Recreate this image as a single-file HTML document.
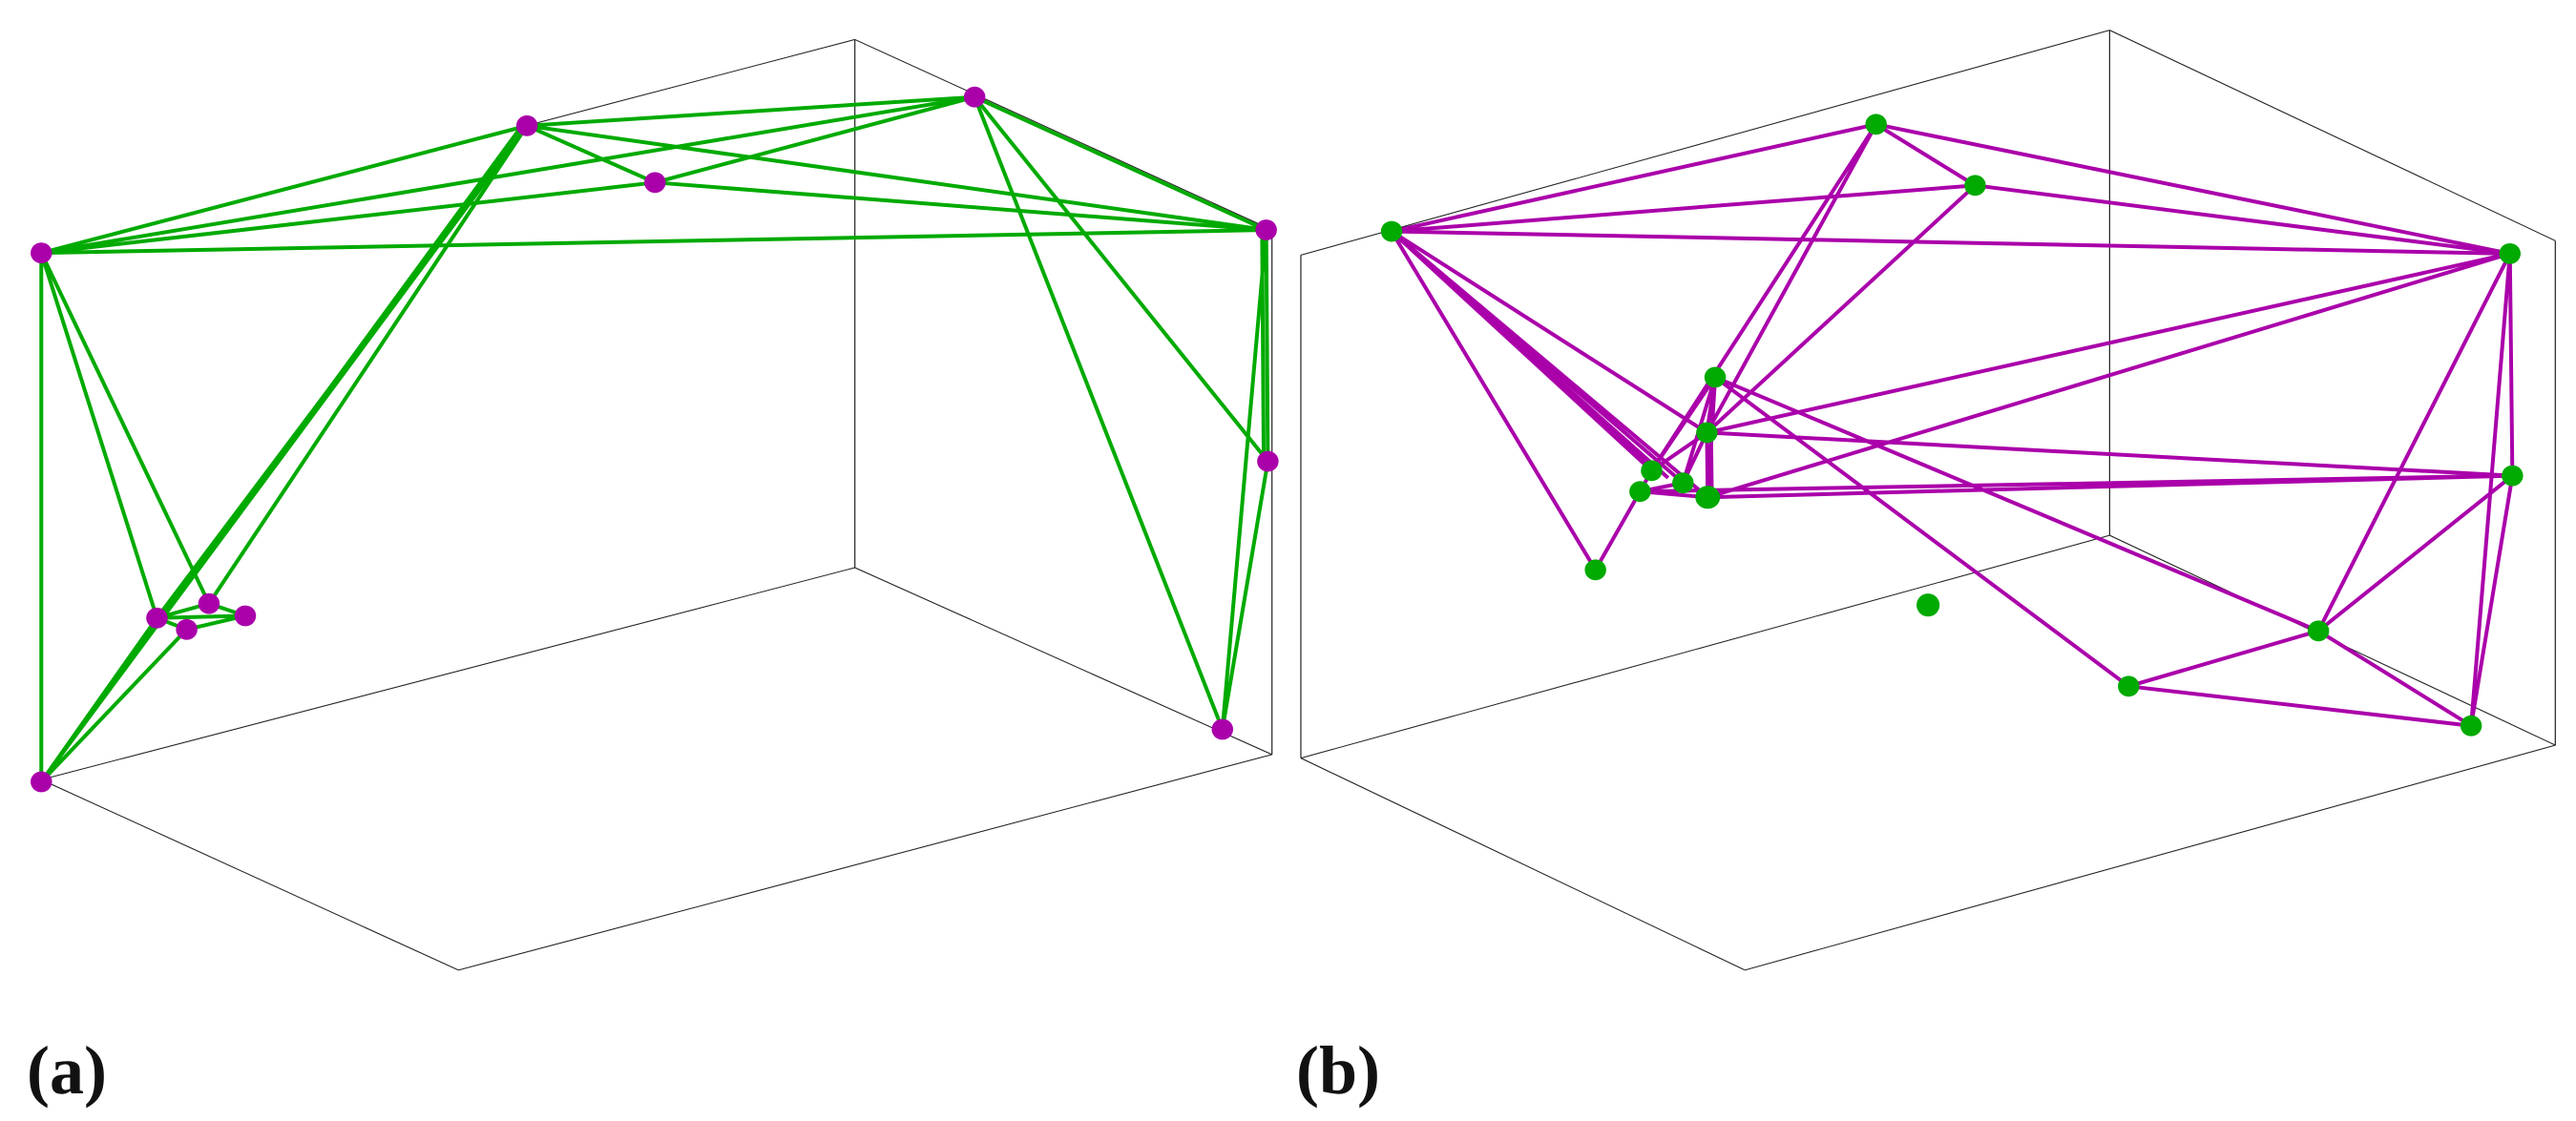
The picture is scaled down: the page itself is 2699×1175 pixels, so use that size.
<!DOCTYPE html>
<html><head><meta charset="utf-8"><style>
html,body{margin:0;padding:0;background:#fff;width:2699px;height:1175px;overflow:hidden}
svg{display:block}
.bx{stroke:#222;stroke-width:1.4;fill:none;vector-effect:non-scaling-stroke}
.g line{stroke:#00aa00;stroke-width:4;vector-effect:non-scaling-stroke}
.m line{stroke:#aa00aa;stroke-width:4;vector-effect:non-scaling-stroke}
</style></head><body>
<svg width="2699" height="1175" viewBox="0 0 2699 1175" xmlns="http://www.w3.org/2000/svg">
<g transform="scale(0.8654,0.7532)">
 <g class="bx">
  <line x1="1035" y1="55" x2="1035" y2="790"/><line x1="1035" y1="55" x2="1540" y2="320"/>
  <line x1="1540" y1="320" x2="1540" y2="1050"/><line x1="1035" y1="790" x2="1540" y2="1050"/>
  <line x1="1035" y1="790" x2="50" y2="1085"/><line x1="50" y1="1085" x2="555" y2="1350"/>
  <line x1="555" y1="1350" x2="1540" y2="1050"/><line x1="50" y1="352" x2="1035" y2="55"/>
  <line x1="50" y1="352" x2="50" y2="1085"/>
 </g>
 <g class="g">
  <line x1="50" y1="352" x2="638" y2="175"/><line x1="50" y1="352" x2="1180" y2="135"/>
  <line x1="50" y1="352" x2="793" y2="254"/><line x1="50" y1="352" x2="1533" y2="320"/>
  <line x1="793" y1="254" x2="1180" y2="135"/><line x1="638" y1="175" x2="793" y2="254"/>
  <line x1="638" y1="175" x2="1180" y2="135"/><line x1="638" y1="175" x2="1533" y2="320"/>
  <line x1="793" y1="254" x2="1533" y2="320"/><line x1="1180" y1="135" x2="1533" y2="320"/>
  <line x1="1180" y1="135" x2="1535" y2="642"/><line x1="1180" y1="135" x2="1480" y2="1015"/>
  <line x1="1533" y1="320" x2="1535" y2="642"/><line x1="1528" y1="320" x2="1530" y2="642"/>
  <line x1="1533" y1="320" x2="1480" y2="1015"/><line x1="1535" y1="642" x2="1480" y2="1015"/>
  <line x1="50" y1="352" x2="190" y2="860"/><line x1="50" y1="352" x2="253" y2="840"/>
  <line x1="50" y1="352" x2="50" y2="1088"/>
  <line x1="638" y1="175" x2="190" y2="860"/><line x1="638" y1="175" x2="50" y2="1088"/>
  <line x1="630" y1="178" x2="50" y2="1088"/><line x1="638" y1="175" x2="253" y2="840"/>
  <line x1="190" y1="860" x2="253" y2="840"/><line x1="190" y1="860" x2="297" y2="857"/>
  <line x1="190" y1="860" x2="226" y2="876"/><line x1="226" y1="876" x2="297" y2="857"/>
  <line x1="253" y1="840" x2="297" y2="857"/><line x1="50" y1="1088" x2="226" y2="876"/>
  <line x1="50" y1="1088" x2="190" y2="860"/>
 </g>
 <g fill="#aa00aa">
  <ellipse cx="50" cy="352" rx="13" ry="14.5"/><ellipse cx="638" cy="175" rx="13" ry="14.5"/>
  <ellipse cx="793" cy="254" rx="13" ry="14.5"/><ellipse cx="1180" cy="135" rx="13" ry="14.5"/>
  <ellipse cx="1533" cy="320" rx="13" ry="14.5"/><ellipse cx="1535" cy="642" rx="13" ry="14.5"/>
  <ellipse cx="1480" cy="1015" rx="13" ry="14.5"/><ellipse cx="50" cy="1088" rx="13" ry="14.5"/>
  <ellipse cx="190" cy="860" rx="13" ry="14.5"/><ellipse cx="253" cy="840" rx="13" ry="14.5"/>
  <ellipse cx="297" cy="857" rx="13" ry="14.5"/><ellipse cx="226" cy="876" rx="13" ry="14.5"/>
 </g>
</g>
<g transform="translate(1350,0) scale(0.8647,0.7532)">
 <g class="bx">
  <line x1="995" y1="42" x2="995" y2="745"/><line x1="995" y1="42" x2="15" y2="355"/>
  <line x1="995" y1="42" x2="1535" y2="335"/><line x1="1535" y1="335" x2="1535" y2="1037"/>
  <line x1="15" y1="355" x2="15" y2="1055"/><line x1="995" y1="745" x2="15" y2="1055"/>
  <line x1="995" y1="745" x2="1535" y2="1037"/><line x1="15" y1="1055" x2="553" y2="1350"/>
  <line x1="553" y1="1350" x2="1535" y2="1037"/>
 </g>
 <g class="m">
  <line x1="125" y1="322" x2="712" y2="173"/><line x1="125" y1="322" x2="832" y2="258"/>
  <line x1="125" y1="322" x2="1480" y2="353"/><line x1="125" y1="322" x2="372" y2="793"/>
  <line x1="125" y1="322" x2="440" y2="655"/><line x1="125" y1="322" x2="450" y2="660"/>
  <line x1="125" y1="322" x2="460" y2="665"/><line x1="125" y1="322" x2="478" y2="672"/>
  <line x1="125" y1="322" x2="508" y2="692"/><line x1="125" y1="322" x2="507" y2="602"/>
  <line x1="712" y1="173" x2="832" y2="258"/><line x1="712" y1="173" x2="1480" y2="353"/>
  <line x1="712" y1="173" x2="440" y2="655"/><line x1="712" y1="173" x2="507" y2="602"/>
  <line x1="832" y1="258" x2="1480" y2="353"/><line x1="832" y1="258" x2="507" y2="602"/>
  <line x1="1480" y1="353" x2="507" y2="602"/><line x1="1480" y1="353" x2="508" y2="692"/>
  <line x1="1480" y1="353" x2="1483" y2="662"/><line x1="1480" y1="353" x2="1248" y2="878"/>
  <line x1="1480" y1="353" x2="1433" y2="1010"/>
  <line x1="1483" y1="662" x2="1433" y2="1010"/><line x1="1483" y1="662" x2="1248" y2="878"/>
  <line x1="1483" y1="662" x2="507" y2="602"/><line x1="1483" y1="662" x2="508" y2="692"/>
  <line x1="1483" y1="662" x2="426" y2="684"/>
  <line x1="517" y1="525" x2="1018" y2="955"/><line x1="517" y1="525" x2="1248" y2="878"/>
  <line x1="517" y1="525" x2="507" y2="602"/><line x1="517" y1="525" x2="440" y2="655"/>
  <line x1="517" y1="525" x2="508" y2="692"/><line x1="517" y1="525" x2="478" y2="672"/>
  <line x1="507" y1="602" x2="508" y2="692"/><line x1="512" y1="602" x2="513" y2="692"/>
  <line x1="507" y1="602" x2="440" y2="655"/><line x1="507" y1="602" x2="478" y2="672"/>
  <line x1="440" y1="655" x2="426" y2="684"/><line x1="426" y1="684" x2="508" y2="692"/>
  <line x1="426" y1="684" x2="372" y2="793"/><line x1="426" y1="684" x2="478" y2="672"/>
  <line x1="1018" y1="955" x2="1248" y2="878"/><line x1="1018" y1="955" x2="1433" y2="1010"/>
  <line x1="1248" y1="878" x2="1433" y2="1010"/>
 </g>
 <g fill="#00aa00">
  <ellipse cx="125" cy="322" rx="13" ry="14.5"/><ellipse cx="712" cy="173" rx="13" ry="14.5"/>
  <ellipse cx="832" cy="258" rx="13" ry="14.5"/><ellipse cx="1480" cy="353" rx="13" ry="14.5"/>
  <ellipse cx="517" cy="525" rx="13" ry="14.5"/><ellipse cx="507" cy="602" rx="13" ry="14.5"/>
  <ellipse cx="1483" cy="662" rx="13" ry="14.5"/><ellipse cx="440" cy="655" rx="13" ry="14.5"/>
  <ellipse cx="426" cy="684" rx="13" ry="14.5"/><ellipse cx="478" cy="672" rx="13" ry="14.5"/>
  <ellipse cx="508" cy="692" rx="15" ry="16"/><ellipse cx="372" cy="793" rx="13" ry="14.5"/>
  <ellipse cx="775" cy="842" rx="14" ry="16"/><ellipse cx="1248" cy="878" rx="13" ry="14.5"/>
  <ellipse cx="1018" cy="955" rx="13" ry="14.5"/><ellipse cx="1433" cy="1010" rx="13" ry="14.5"/>
 </g>
</g>
<text x="28" y="1146" font-family="Liberation Serif, serif" font-weight="bold" font-size="72" fill="#111">(a)</text>
<text x="1358" y="1146" font-family="Liberation Serif, serif" font-weight="bold" font-size="72" fill="#111">(b)</text>
</svg>
</body></html>
